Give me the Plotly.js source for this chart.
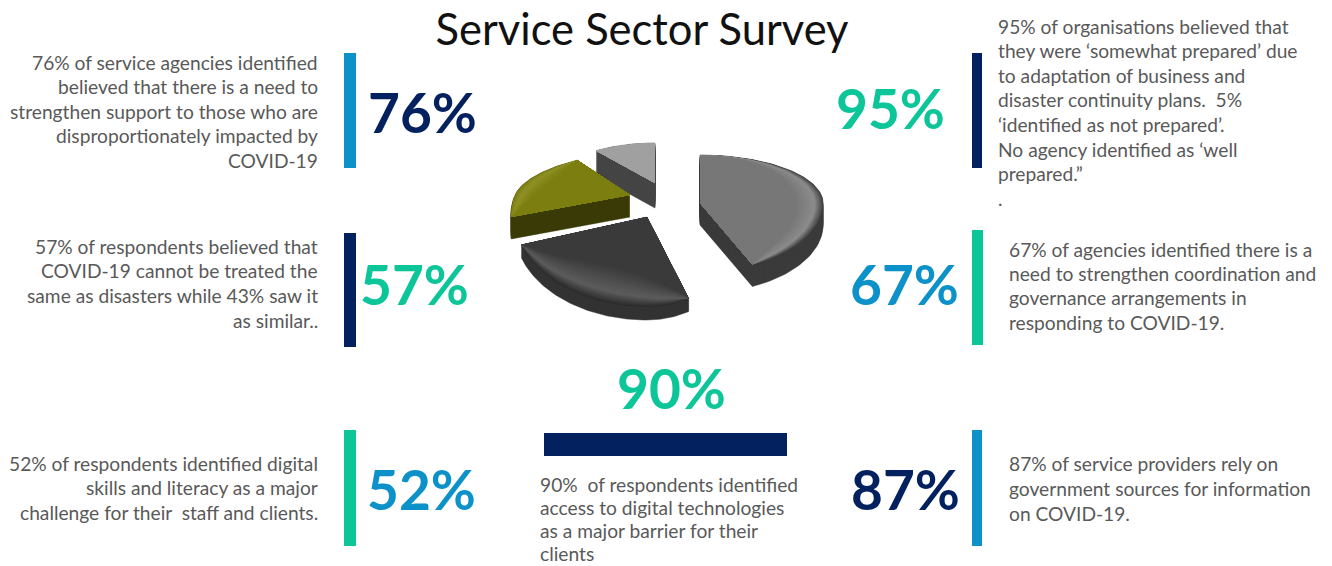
<!DOCTYPE html>
<html>
<head>
<meta charset="utf-8">
<script src="https://cdn.plot.ly/plotly-3.0.1.min.js"></script>
<style>
html,body{margin:0;padding:0;background:#fff}
#chart{width:1332px;height:566px}
</style>
</head>
<body>
<div id="chart"></div>
<script>
// ---------- data ----------
const titleText = "Service Sector Survey";
const sliceNames = ["Slice A", "Slice B", "Slice C", "Slice D"];
const sliceValues = [43, 27, 20, 10];

const kpiLabels = ["76%", "57%", "52%", "95%", "67%", "87%", "90%"];

const text76 = ["76% of service agencies identified", "believed that there is a need to", "strengthen support to those who are", "disproportionately impacted by", "COVID-19"];
const text57 = ["57% of respondents believed that", "COVID-19 cannot be treated the", "same as disasters while 43% saw it", "as similar.."];
const text52 = ["52% of respondents identified digital", "skills and literacy as a major", "challenge for their  staff and clients."];
const text95 = ["95% of organisations believed that", "they were ‘somewhat prepared’ due", "to adaptation of business and", "disaster continuity plans.  5%", "‘identified as not prepared’.", "No agency identified as ‘well", "prepared.”", "."];
const text67 = ["67% of agencies identified there is a", "need to strengthen coordination and", "governance arrangements in", "responding to COVID-19."];
const text87 = ["87% of service providers rely on", "government sources for information", "on COVID-19."];
const text90 = ["90%  of respondents identified", "access to digital technologies", "as a major barrier for their", "clients"];

// ---------- style ----------
const NAVY = "#03205f", TEAL = "#0cc598", BLUE = "#0c92c8", GREY = "#595959";
const FONT = "Lato, 'Open Sans', sans-serif";
const BODY = 19.2, KPI = 55;

const annotations = [];
function block(lines, x, y0, lh, anchor) {
  lines.forEach((t, i) => annotations.push({
    xref: "x", yref: "y", x: x + (anchor === "right" ? 3 : -3), y: y0 + i * lh, text: t, showarrow: false,
    xanchor: anchor, yanchor: "middle", font: {family: FONT, size: BODY, color: GREY}
  }));
}
block(text76, 317, 62, 24.6, "right");
block(text57, 317, 246, 24.7, "right");
block(text52, 317, 463, 24.6, "right");
block(text95, 999, 26, 24.6, "left");
block(text67, 1010, 249, 24.4, "left");
block(text87, 1010, 463, 25, "left");
block(text90, 541, 484, 23.3, "left");

const kpiPlace = [[422, 112, NAVY], [414, 284, TEAL], [421, 489, BLUE], [890, 108, TEAL], [904, 284, BLUE], [905, 489, NAVY], [671, 388, TEAL]];
kpiLabels.forEach((t, i) => annotations.push({
  xref: "x", yref: "y", x: kpiPlace[i][0], y: kpiPlace[i][1], text: "<b>" + t + "</b>", showarrow: false,
  xanchor: "center", yanchor: "middle", font: {family: FONT, size: KPI, color: kpiPlace[i][2]}
}));

const rect = (x0, y0, x1, y1, c) => ({type: "rect", xref: "x", yref: "y", x0, y0, x1, y1, fillcolor: c, line: {width: 0}, layer: "below"});
const shapes = [
  rect(344, 53, 356, 168, BLUE), rect(344, 233, 356, 347, NAVY), rect(344, 430, 356, 546, TEAL),
  rect(972, 53, 982, 168, NAVY), rect(972, 230, 983, 345, TEAL), rect(972, 430, 982, 546, BLUE),
  rect(544, 433, 787, 456, NAVY)
];

// ---------- exploded pie, tilted; sweep angles come from sliceValues ----------
const pieGeom = [
  {cx: 700, cy: 203, rxL: 123, rxR: 123, ryT: 48, ryB: 68, shear: 0,     depth: 22, wall: "#3b3b3b", outer: "#454545", hi: "#8c8c8c", base: "#777777"},
  {cx: 647, cy: 217, rxL: 132, rxR: 98,  ryT: 30, ryB: 90, shear: 0,     depth: 13, wall: "#333333", outer: "#2c2c2c", hi: "#5c5c5c", base: "#3a3a3a"},
  {cx: 630, cy: 195, rxL: 115, rxR: 100, ryT: 43, ryB: 71, shear: -0.43, depth: 22, wall: "#3a3a06", outer: "#7c7e10", hi: "#8f9126", base: "#7c7e10"},
  {cx: 655, cy: 183, rxL: 100, rxR: 90,  ryT: 40, ryB: 60, shear: 0,     depth: 25, wall: "#444444", outer: "#9c9c9c", hi: "#a4a4a4", base: "#a0a0a0"}
];
const total = sliceValues.reduce((a, b) => a + b, 0);
let ang = -90;
const sweeps = sliceValues.map(v => { const a0 = ang; ang += v / total * 360; return [a0, ang]; });

function outline(g, a0, a1, t) {
  const xs = [g.cx], ys = [g.cy];
  const n = 80;
  for (let i = 0; i <= n; i++) {
    const f = i / n;
    const a = (a0 + (a1 - a0) * f) * Math.PI / 180;
    const c = Math.cos(a), s = Math.sin(a);
    const w = t * Math.pow(Math.sin(Math.PI * f), 0.7);
    const rx = (c > 0 ? g.rxR : g.rxL) * (1 - 0.22 * w);
    const ry = s > 0 ? g.ryB * (1 - 0.42 * w) : g.ryT * (1 - 0.05 * w);
    const dy = s * ry;
    xs.push(g.cx + c * rx + g.shear * dy);
    ys.push(g.cy + dy);
  }
  xs.push(g.cx); ys.push(g.cy);
  return [xs, ys];
}
const hex = h => [1, 3, 5].map(i => parseInt(h.substr(i, 2), 16));
const mix = (a, b, t) => { const A = hex(a), B = hex(b); return "rgb(" + A.map((v, i) => Math.round(v + (B[i] - v) * t)).join(",") + ")"; };

const traces = [];
function addSlice(i) {
  const g = pieGeom[i], [a0, a1] = sweeps[i];
  const wx = [], wy = [];
  for (let d = g.depth; d >= 0; d--) {
    const [x, y] = outline(g, a0, a1, 0);
    x.forEach((v, k) => { wx.push(v); wy.push(y[k] + d); });
    wx.push(null); wy.push(null);
  }
  traces.push({type: "scatter", mode: "lines", x: wx, y: wy, fill: "toself", fillcolor: g.wall, line: {color: g.wall, width: 0.5}, hoverinfo: "skip", showlegend: false});
  const layers = 30;
  for (let l = 0; l <= layers; l++) {
    const t = l / layers;
    const col = t < 0.3 ? mix(g.outer, g.hi, t / 0.3) : mix(g.hi, g.base, (t - 0.3) / 0.7);
    const [x, y] = outline(g, a0, a1, t);
    traces.push({type: "scatter", mode: "lines", x, y, fill: "toself", fillcolor: col, line: {width: 0}, name: sliceNames[i], hoverinfo: "skip", showlegend: false});
  }
}
[3, 2, 0, 1].forEach(addSlice);

const layout = {
  width: 1332, height: 566, margin: {l: 0, r: 0, t: 0, b: 0},
  paper_bgcolor: "#fff", plot_bgcolor: "#fff", showlegend: false,
  title: {text: titleText, x: 642 / 1332, xanchor: "center", y: 1 - 30 / 566, yanchor: "middle", font: {family: FONT, size: 43.5, color: "#111111"}},
  xaxis: {range: [0, 1332], visible: false, fixedrange: true},
  yaxis: {range: [566, 0], visible: false, fixedrange: true},
  annotations, shapes
};
Plotly.newPlot("chart", traces, layout, {displayModeBar: false, staticPlot: true});
</script>
</body>
</html>
